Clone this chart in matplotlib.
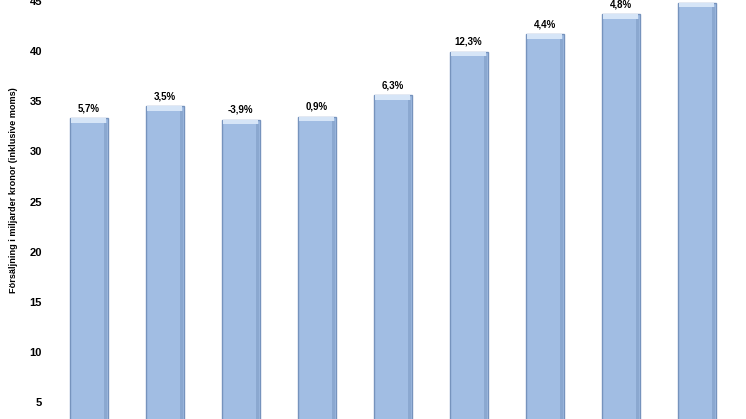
import matplotlib
matplotlib.use('Agg')
import matplotlib.pyplot as plt
import numpy as np

# Försäljning i miljarder kronor per år
sales = [33.3, 34.5, 33.15, 33.45, 35.6, 39.95, 41.7, 43.7, 44.85]
growth = ['5,7%', '3,5%', '-3,9%', '0,9%', '6,3%', '12,3%', '4,4%', '4,8%', '']
yticks = [5, 10, 15, 20, 25, 30, 35, 40, 45]

plt.rcParams['font.family'] = ['Liberation Sans', 'DejaVu Sans']

fig = plt.figure(figsize=(7.46, 4.19), dpi=100)
ax = fig.add_axes([56 / 746, 0, 1 - 56 / 746, 1])

x = np.arange(len(sales))
bar_color = '#A1BDE3'
edge_color = '#7693BD'

ax.bar(x, sales, width=0.5, color=bar_color, edgecolor=edge_color, linewidth=1.0, zorder=2)
# ljus kant upptill (ger 3D-känslan)
ax.bar(x, [0.45] * len(sales), bottom=np.array(sales) - 0.45, width=0.46,
       color='#D6E5F7', edgecolor='none', zorder=3)
# mörkare skugga till höger
ax.bar(x + 0.22, np.array(sales) - 0.45, width=0.04, color='#8BA8D0',
       edgecolor='none', zorder=3)

for xi, v, g in zip(x, sales, growth):
    if g:
        ax.text(xi, v + 0.5, g, ha='center', va='bottom', fontsize=7, fontweight='bold')

ax.set_xlim((56 - 88.5) / 76, (746 - 88.5) / 76)
ax.set_ylim(45 - 418 / 10.03, 45 + 1 / 10.03)
ax.set_yticks(yticks)
ax.set_yticklabels([str(t) for t in yticks], fontsize=8, fontweight='bold')
ax.tick_params(axis='y', length=0, pad=10)
ax.set_xticks([])
for s in ax.spines.values():
    s.set_visible(False)

fig.text(14 / 746, 1 - 190 / 419, 'Försäljning i miljarder kronor (inklusive moms)',
         rotation=90, ha='center', va='center', fontsize=6.6, fontweight='bold')

fig.savefig('out.png', dpi=100)
